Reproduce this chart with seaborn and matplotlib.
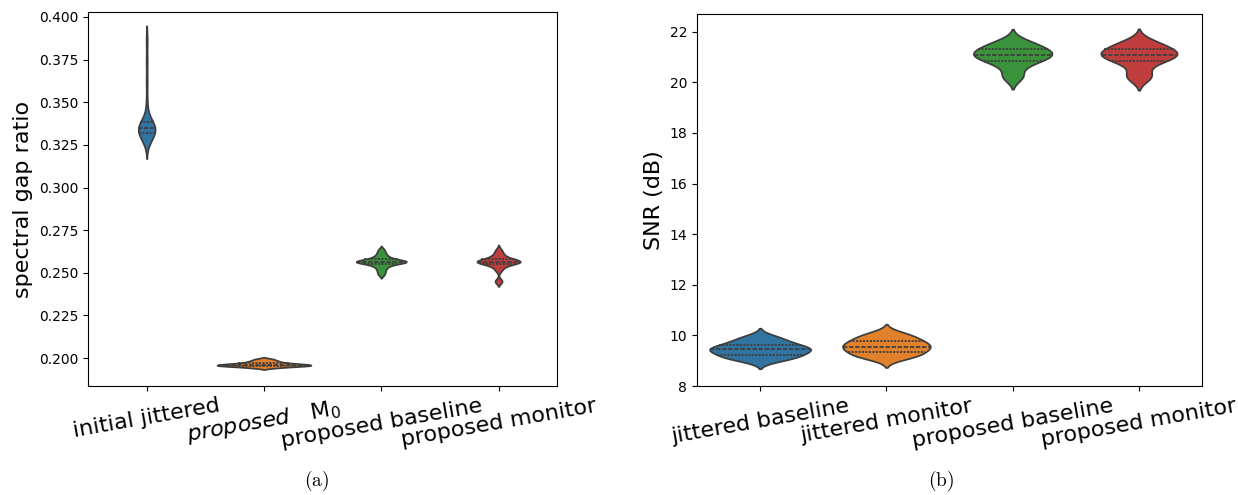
import pandas as pd
import matplotlib
matplotlib.use("Agg")
import matplotlib.pyplot as plt
import seaborn as sns

# (a) spectral gap ratio, one list of samples per method
labels_a = ["initial jittered", r"$\mathit{proposed}\quad\mathrm{M}_0$",
            "proposed baseline", "proposed monitor"]
gap_initial = [0.3258, 0.3276, 0.3289, 0.3298, 0.3306, 0.3312, 0.3317, 0.3323,
               0.3329, 0.3335, 0.3339, 0.3342, 0.3345, 0.3349, 0.3354, 0.3360,
               0.3366, 0.3372, 0.3379, 0.3387, 0.3398, 0.3420, 0.3500, 0.3620,
               0.3740, 0.3860]
gap_m0 = [0.1942, 0.1946, 0.1949, 0.1951, 0.1953, 0.1954, 0.1955, 0.1956,
          0.1958, 0.1959, 0.1960, 0.1961, 0.1963, 0.1964, 0.1965, 0.1967,
          0.1969, 0.1971, 0.1974, 0.1977, 0.1981, 0.1985, 0.1990, 0.1996]
gap_baseline = [0.2490, 0.2506, 0.2520, 0.2532, 0.2541, 0.2548, 0.2553, 0.2557,
                0.2560, 0.2562, 0.2564, 0.2565, 0.2566, 0.2567, 0.2569, 0.2571,
                0.2574, 0.2578, 0.2583, 0.2589, 0.2597, 0.2607, 0.2620, 0.2636]
gap_monitor = [0.2448, 0.2453, 0.2512, 0.2528, 0.2539, 0.2547, 0.2553, 0.2557,
               0.2560, 0.2562, 0.2564, 0.2565, 0.2566, 0.2567, 0.2569, 0.2571,
               0.2574, 0.2578, 0.2583, 0.2589, 0.2597, 0.2607, 0.2620, 0.2636]

# (b) SNR in dB
labels_b = ["jittered baseline", "jittered monitor", "proposed baseline", "proposed monitor"]
snr_jit_base = [8.98, 9.05, 9.10, 9.14, 9.17, 9.20, 9.25, 9.30, 9.34, 9.38, 9.41, 9.44,
                9.46, 9.48, 9.51, 9.54, 9.58, 9.62, 9.67, 9.72, 9.78, 9.85, 9.92, 9.99]
snr_jit_mon = [9.06, 9.13, 9.18, 9.22, 9.26, 9.30, 9.34, 9.40, 9.45, 9.50, 9.53, 9.55,
               9.57, 9.61, 9.65, 9.70, 9.75, 9.79, 9.82, 9.88, 9.94, 10.00, 10.06, 10.12]
snr_prop_base = [20.16, 20.22, 20.30, 20.62, 20.70, 20.78, 20.86, 20.92, 20.97, 21.01,
                 21.04, 21.06, 21.08, 21.12, 21.16, 21.21, 21.26, 21.30, 21.34, 21.39,
                 21.45, 21.52, 21.59, 21.66]
snr_prop_mon = [20.14, 20.20, 20.26, 20.33, 20.66, 20.76, 20.84, 20.91, 20.96, 21.00,
                21.03, 21.05, 21.07, 21.11, 21.15, 21.20, 21.25, 21.29, 21.33, 21.38,
                21.44, 21.51, 21.58, 21.65]


def long_df(labels, groups, col):
    rows = []
    for lab, vals in zip(labels, groups):
        rows += [(lab, v) for v in vals]
    return pd.DataFrame(rows, columns=["method", col])


df_a = long_df(labels_a, [gap_initial, gap_m0, gap_baseline, gap_monitor], "gap")
df_b = long_df(labels_b, [snr_jit_base, snr_jit_mon, snr_prop_base, snr_prop_mon], "snr")

fig = plt.figure(figsize=(12.38, 4.95), dpi=100)
ax1 = fig.add_axes([0.0711, 0.220, 0.379, 0.756])
ax2 = fig.add_axes([0.563, 0.220, 0.408, 0.752])

# common_norm so that violin widths are scaled by area across the panel
sns.violinplot(data=df_a, x="method", y="gap", hue="method", inner="quart",
               bw_adjust=0.6, common_norm=True, legend=False, ax=ax1)
sns.violinplot(data=df_b, x="method", y="snr", hue="method", inner="quart",
               common_norm=True, legend=False, ax=ax2)

ax1.set_ylim(0.1836, 0.4030)
ax2.set_ylim(8, 22.7)
ax1.set_ylabel("spectral gap ratio", fontsize=16)
ax2.set_ylabel("SNR (dB)", fontsize=16)
for ax in (ax1, ax2):
    ax.set_xlabel("")
    ax.tick_params(axis="x", labelsize=16, labelrotation=10)

# captions under each panel
fig.text(0.256, 0.018, r"$\mathrm{(a)}$", math_fontfamily="cm", fontsize=14, ha="center")
fig.text(0.760, 0.018, r"$\mathrm{(b)}$", math_fontfamily="cm", fontsize=14, ha="center")

plt.savefig("out.png", dpi=100)
